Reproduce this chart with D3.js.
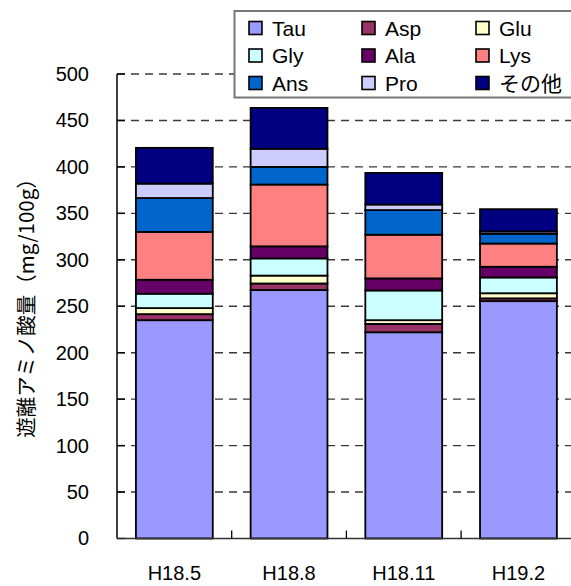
<!DOCTYPE html>
<html>
<head>
<meta charset="utf-8">
<script src="https://cdn.jsdelivr.net/npm/d3@7"></script>
<style>
  body { margin: 0; background: #fff; }
  svg { display: block; font-family: "Liberation Sans", Arial, "Noto Sans CJK JP", sans-serif; }
</style>
</head>
<body>
<svg id="chart"></svg>
<script>
// data (mg/100g)
const categories = ['H18.5', 'H18.8', 'H18.11', 'H19.2'];
const seriesNames = ['Tau', 'Asp', 'Glu', 'Gly', 'Ala', 'Lys', 'Ans', 'Pro', 'その他'];
const seriesColors = ['#9999ff', '#993366', '#ffffcc', '#ccffff', '#660066', '#ff8080', '#0066cc', '#ccccff', '#000080'];
const tau   = [235, 267.5, 222, 255.5];
const asp   = [6.5, 7, 9, 3];
const glu   = [6.5, 8.5, 4, 5.5];
const gly   = [15.5, 18.5, 32, 17];
const ala   = [15, 13, 13, 11.5];
const lys   = [51.5, 66.5, 47, 25];
const ans   = [36.5, 19, 26.5, 10.5];
const pro   = [15.5, 19.5, 6, 2.5];
const other = [38.5, 44, 34, 24];
const yTicks = [0, 50, 100, 150, 200, 250, 300, 350, 400, 450, 500];
const yTitle = '遊離アミノ酸量（mg/100g）';

const seriesValues = [tau, asp, glu, gly, ala, lys, ans, pro, other];

const width = 571, height = 586;
const margin = {top: 74, left: 117, bottom: 538.5};

const svg = d3.select('#chart')
    .attr('width', width)
    .attr('height', height);

// table for the stack
const table = categories.map((c, i) => {
  const row = {cat: c};
  seriesNames.forEach((s, j) => row[s] = seriesValues[j][i]);
  return row;
});
const stacked = d3.stack().keys(seriesNames)(table);

const x = d3.scaleBand()
    .domain(categories)
    .range([margin.left, 575.8])
    .paddingInner(0.33)
    .paddingOuter(0.165);

const y = d3.scaleLinear()
    .domain([0, 500])
    .range([margin.bottom, margin.top]);

// dashed gridlines
svg.append('g')
  .selectAll('line')
  .data(yTicks.filter(d => d > 0))
  .join('line')
    .attr('x1', margin.left)
    .attr('x2', width)
    .attr('y1', d => y(d))
    .attr('y2', d => y(d))
    .attr('stroke', '#3a3a3a')
    .attr('stroke-width', 1.4)
    .attr('stroke-dasharray', '8,6');

// bars
svg.append('g')
  .selectAll('g')
  .data(stacked)
  .join('g')
    .attr('fill', (d, i) => seriesColors[i])
  .selectAll('rect')
  .data(d => d)
  .join('rect')
    .attr('x', d => x(d.data.cat))
    .attr('width', x.bandwidth())
    .attr('y', d => y(d[1]))
    .attr('height', d => y(d[0]) - y(d[1]))
    .attr('stroke', '#000')
    .attr('stroke-width', 1.8);

// y axis
const yAxisG = svg.append('g')
    .attr('transform', `translate(${margin.left},0)`)
    .call(d3.axisLeft(y).tickValues(yTicks).tickSize(0).tickPadding(28))
    .call(g => g.select('.domain').remove());
yAxisG.selectAll('text')
    .attr('font-size', 20)
    .attr('fill', '#000')
    .style('font-family', '"Liberation Sans", Arial, sans-serif');
svg.append('line')
    .attr('x1', margin.left).attr('x2', margin.left)
    .attr('y1', y(500)).attr('y2', y(0))
    .attr('stroke', '#000').attr('stroke-width', 1.5);
svg.append('g')
  .selectAll('line')
  .data(yTicks)
  .join('line')
    .attr('x1', margin.left).attr('x2', margin.left + 8)
    .attr('y1', d => y(d)).attr('y2', d => y(d))
    .attr('stroke', '#000').attr('stroke-width', 1.4);

// x axis
const xAxisG = svg.append('g')
    .attr('transform', `translate(0,${margin.bottom})`)
    .call(d3.axisBottom(x).tickSize(0).tickPadding(27))
    .call(g => g.select('.domain').remove());
xAxisG.selectAll('text')
    .attr('font-size', 20)
    .attr('fill', '#000')
    .style('font-family', '"Liberation Sans", Arial, sans-serif');
svg.append('line')
    .attr('x1', margin.left).attr('x2', width)
    .attr('y1', y(0)).attr('y2', y(0))
    .attr('stroke', '#333').attr('stroke-width', 1.6);
// category separators
svg.append('g')
  .selectAll('line')
  .data(categories.slice(1))
  .join('line')
    .attr('x1', d => x(d) - x.step() * x.paddingInner() / 2)
    .attr('x2', d => x(d) - x.step() * x.paddingInner() / 2)
    .attr('y1', y(0)).attr('y2', y(0) - 8)
    .attr('stroke', '#000').attr('stroke-width', 1.3);

// y axis title
svg.append('text')
    .attr('transform', 'translate(25,303) rotate(-90)')
    .attr('text-anchor', 'middle')
    .attr('dominant-baseline', 'central')
    .attr('font-size', 20.5)
    .style('font-family', '"Noto Sans CJK JP", sans-serif')
    .text(yTitle);

// legend
const legend = svg.append('g');
legend.append('rect')
    .attr('x', 234.5).attr('y', 11)
    .attr('width', 360).attr('height', 86.5)
    .attr('fill', '#fff')
    .attr('stroke', '#777')
    .attr('stroke-width', 2);
const colX = [249, 362, 476];
const rowY = [28, 55.5, 83];
const items = legend.selectAll('g.item')
  .data(seriesNames)
  .join('g')
    .attr('class', 'item')
    .attr('transform', (d, i) => `translate(${colX[i % 3]},${rowY[Math.floor(i / 3)]})`);
items.append('rect')
    .attr('x', 0).attr('y', -6.5)
    .attr('width', 13).attr('height', 13)
    .attr('fill', (d, i) => seriesColors[i])
    .attr('stroke', '#000')
    .attr('stroke-width', 1.6);
items.append('text')
    .attr('x', 23)
    .attr('dy', '0.36em')
    .attr('font-size', 21)
    .text(d => d);
</script>
</body>
</html>
